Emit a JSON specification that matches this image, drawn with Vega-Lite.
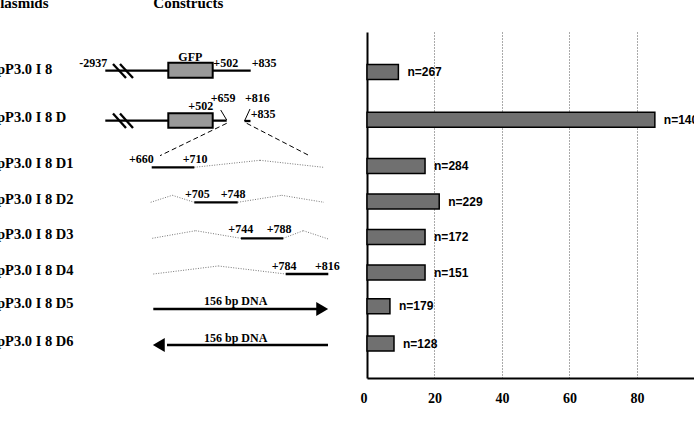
{
  "$schema": "https://vega.github.io/schema/vega-lite/v6.json",
  "background": "white",
  "padding": 0,
  "config": {"view": {"stroke": null}},
  "datasets": {
    "rows": [
      {"y": 1, "pct": 9.3, "n": "n=267"},
      {"y": 2.35, "pct": 85.3, "n": "n=140"},
      {"y": 3.65, "pct": 17.2, "n": "n=284"},
      {"y": 4.65, "pct": 21.4, "n": "n=229"},
      {"y": 5.65, "pct": 17.2, "n": "n=172"},
      {"y": 6.65, "pct": 17.2, "n": "n=151"},
      {"y": 7.6, "pct": 6.8, "n": "n=179"},
      {"y": 8.65, "pct": 8.0, "n": "n=128"}
    ],
    "plasmids": [
      {"x": -0.6, "y": 1, "text": "pP3.0 I 8"},
      {"x": -0.6, "y": 2.35, "text": "pP3.0 I 8 D"},
      {"x": -0.6, "y": 3.65, "text": "pP3.0 I 8 D1"},
      {"x": -0.6, "y": 4.65, "text": "pP3.0 I 8 D2"},
      {"x": -0.6, "y": 5.65, "text": "pP3.0 I 8 D3"},
      {"x": -0.6, "y": 6.65, "text": "pP3.0 I 8 D4"},
      {"x": -0.6, "y": 7.6, "text": "pP3.0 I 8 D5"},
      {"x": -0.6, "y": 8.65, "text": "pP3.0 I 8 D6"}
    ],
    "segs": [
      {"x": 21.06, "y": 0.937, "x2": 50.14, "y2": 0.937, "kind": "thick"},
      {"x": 22.6, "y": 0.748, "x2": 25.2, "y2": 1.143, "kind": "thick"},
      {"x": 24.0, "y": 0.748, "x2": 26.6, "y2": 1.143, "kind": "thick"},
      {"x": 21.06, "y": 2.345, "x2": 45.34, "y2": 2.345, "kind": "thick"},
      {"x": 22.6, "y": 2.143, "x2": 25.2, "y2": 2.551, "kind": "thick"},
      {"x": 24.0, "y": 2.143, "x2": 26.6, "y2": 2.551, "kind": "thick"},
      {"x": 44.14, "y": 2.044, "x2": 45.34, "y2": 2.326, "kind": "thin"},
      {"x": 50.0, "y": 2.016, "x2": 48.9, "y2": 2.354, "kind": "thin"},
      {"x": 48.9, "y": 2.354, "x2": 50.1, "y2": 2.354, "kind": "thick"},
      {"x": 45.34, "y": 2.419, "x2": 32.0, "y2": 3.331, "kind": "dashed"},
      {"x": 49.34, "y": 2.419, "x2": 62.0, "y2": 3.34, "kind": "dashed"},
      {"x": 30.34, "y": 3.658, "x2": 38.86, "y2": 3.658, "kind": "thick"},
      {"x": 38.86, "y": 3.658, "x2": 52.0, "y2": 3.461, "kind": "dotted"},
      {"x": 52.0, "y": 3.461, "x2": 64.66, "y2": 3.658, "kind": "dotted"},
      {"x": 30.14, "y": 4.644, "x2": 34.46, "y2": 4.447, "kind": "dotted"},
      {"x": 34.46, "y": 4.447, "x2": 38.86, "y2": 4.644, "kind": "dotted"},
      {"x": 38.86, "y": 4.644, "x2": 47.54, "y2": 4.644, "kind": "thick"},
      {"x": 47.54, "y": 4.644, "x2": 56.34, "y2": 4.447, "kind": "dotted"},
      {"x": 56.34, "y": 4.447, "x2": 64.8, "y2": 4.644, "kind": "dotted"},
      {"x": 30.46, "y": 5.658, "x2": 39.14, "y2": 5.444, "kind": "dotted"},
      {"x": 39.14, "y": 5.444, "x2": 48.2, "y2": 5.658, "kind": "dotted"},
      {"x": 48.2, "y": 5.658, "x2": 56.66, "y2": 5.658, "kind": "thick"},
      {"x": 56.66, "y": 5.658, "x2": 60.66, "y2": 5.444, "kind": "dotted"},
      {"x": 60.66, "y": 5.444, "x2": 65.66, "y2": 5.678, "kind": "dotted"},
      {"x": 30.66, "y": 6.664, "x2": 43.66, "y2": 6.438, "kind": "dotted"},
      {"x": 43.66, "y": 6.438, "x2": 57.14, "y2": 6.664, "kind": "dotted"},
      {"x": 57.14, "y": 6.664, "x2": 65.66, "y2": 6.664, "kind": "thick"},
      {"x": 30.66, "y": 7.65, "x2": 63.6, "y2": 7.65, "kind": "thick"},
      {"x": 33.4, "y": 8.664, "x2": 65.6, "y2": 8.664, "kind": "thick"}
    ],
    "boxes": [
      {"x": 33.66, "x2": 42.54, "y": 0.712, "y2": 1.134},
      {"x": 33.66, "x2": 42.54, "y": 2.137, "y2": 2.543}
    ],
    "heads": [
      {"x": 64.44, "y": 7.65, "dir": "right"},
      {"x": 31.76, "y": 8.664, "dir": "left"}
    ],
    "notes": [
      {"x": 15.86, "y": 0.841, "text": "-2937"},
      {"x": 35.66, "y": 0.664, "text": "GFP"},
      {"x": 42.66, "y": 0.841, "text": "+502"},
      {"x": 50.34, "y": 0.841, "text": "+835"},
      {"x": 37.66, "y": 2.044, "text": "+502"},
      {"x": 42.14, "y": 1.81, "text": "+659"},
      {"x": 49.0, "y": 1.81, "text": "+816"},
      {"x": 50.14, "y": 2.278, "text": "+835"},
      {"x": 25.8, "y": 3.545, "text": "+660"},
      {"x": 36.54, "y": 3.545, "text": "+710"},
      {"x": 37.0, "y": 4.531, "text": "+705"},
      {"x": 44.14, "y": 4.531, "text": "+748"},
      {"x": 45.66, "y": 5.517, "text": "+744"},
      {"x": 53.34, "y": 5.517, "text": "+788"},
      {"x": 54.34, "y": 6.551, "text": "+784"},
      {"x": 63.0, "y": 6.551, "text": "+816"},
      {"x": 40.8, "y": 7.537, "text": "156 bp DNA"},
      {"x": 40.8, "y": 8.571, "text": "156 bp DNA"}
    ],
    "headers": [
      {"x": -1.8, "y": -0.84, "text": "Plasmids"},
      {"x": 30.66, "y": -0.84, "text": "Constructs"}
    ]
  },
  "hconcat": [
    {
      "width": 360,
      "height": 423,
      "encoding": {
        "x": {"field": "x", "type": "quantitative", "scale": {"domain": [0, 72], "nice": false, "zero": false}, "axis": null},
        "y": {"field": "y", "type": "quantitative", "scale": {"domain": [-1.0546, 10.8612], "reverse": true, "nice": false, "zero": false}, "axis": null}
      },
      "layer": [
        {
          "data": {"name": "segs"},
          "transform": [{"filter": "datum.kind === 'dotted'"}],
          "mark": {"type": "rule", "color": "#777777", "strokeWidth": 1, "strokeDash": [1, 1.5]},
          "encoding": {"x2": {"field": "x2"}, "y2": {"field": "y2"}}
        },
        {
          "data": {"name": "segs"},
          "transform": [{"filter": "datum.kind === 'dashed'"}],
          "mark": {"type": "rule", "color": "black", "strokeWidth": 1, "strokeDash": [5, 3]},
          "encoding": {"x2": {"field": "x2"}, "y2": {"field": "y2"}}
        },
        {
          "data": {"name": "segs"},
          "transform": [{"filter": "datum.kind === 'thin'"}],
          "mark": {"type": "rule", "color": "black", "strokeWidth": 1},
          "encoding": {"x2": {"field": "x2"}, "y2": {"field": "y2"}}
        },
        {
          "data": {"name": "segs"},
          "transform": [{"filter": "datum.kind === 'thick'"}],
          "mark": {"type": "rule", "color": "black", "strokeWidth": 2.3},
          "encoding": {"x2": {"field": "x2"}, "y2": {"field": "y2"}}
        },
        {
          "data": {"name": "boxes"},
          "mark": {"type": "rect", "fill": "#999999", "stroke": "black", "strokeWidth": 2},
          "encoding": {"x2": {"field": "x2"}, "y2": {"field": "y2"}}
        },
        {
          "data": {"name": "heads"},
          "mark": {"type": "point", "filled": true, "color": "black", "size": 190, "opacity": 1},
          "encoding": {
            "shape": {"field": "dir", "type": "nominal", "scale": {"domain": ["right", "left"], "range": ["triangle-right", "triangle-left"]}, "legend": null}
          }
        },
        {
          "data": {"name": "notes"},
          "mark": {"type": "text", "align": "left", "baseline": "alphabetic", "font": "Liberation Serif", "fontWeight": "bold", "fontSize": 12, "color": "black"},
          "encoding": {"text": {"field": "text"}}
        },
        {
          "data": {"name": "plasmids"},
          "mark": {"type": "text", "align": "left", "baseline": "alphabetic", "dy": 1, "font": "Liberation Serif", "fontWeight": "bold", "fontSize": 14.5, "color": "black", "clip": true},
          "encoding": {"text": {"field": "text"}}
        },
        {
          "data": {"name": "headers"},
          "mark": {"type": "text", "align": "left", "baseline": "alphabetic", "font": "Liberation Serif", "fontWeight": "bold", "fontSize": 15, "color": "black", "clip": true},
          "encoding": {"text": {"field": "text"}}
        }
      ]
    },
    {
      "spacing": 0,
      "vconcat": [
        {
          "width": 327,
          "height": 32,
          "data": {"values": []},
          "mark": "point"
        },
        {
          "width": 327,
          "height": 346,
          "data": {"name": "rows"},
          "encoding": {
            "y": {"field": "y", "type": "quantitative", "scale": {"domain": [-0.125, 9.6215], "reverse": true, "nice": false, "zero": false, "padding": 0},
              "axis": {"domain": true, "domainColor": "black", "domainWidth": 2, "ticks": false, "labels": false, "grid": false, "title": null}},
            "x": {"field": "pct", "type": "quantitative", "scale": {"domain": [0, 96.9], "nice": false, "padding": 0},
              "axis": {
                "values": [0, 20, 40, 60, 80], "title": null,
                "domainColor": "black", "domainWidth": 2,
                "ticks": false, "tickSize": 0,
                "labelFont": "Liberation Serif", "labelFontWeight": "bold", "labelFontSize": 14, "labelColor": "black",
                "labelPadding": 13, "labelFlush": false, "labelOverlap": false,
                "labelAlign": {"condition": {"test": "datum.value === 0", "value": "right"}, "value": "center"},
                "grid": true, "gridColor": "#555555", "gridWidth": 1, "gridDash": [1, 2],
                "gridOpacity": {"condition": {"test": "datum.value === 0", "value": 0}, "value": 1}
              }}
          },
          "layer": [
            {"mark": {"type": "bar", "orient": "horizontal", "size": 15, "fill": "#707070", "stroke": "black", "strokeWidth": 1.5}},
            {
              "mark": {"type": "text", "align": "left", "baseline": "middle", "dx": 9, "font": "Liberation Sans", "fontWeight": "bold", "fontSize": 12, "color": "black", "clip": true},
              "encoding": {"text": {"field": "n"}}
            }
          ]
        }
      ]
    }
  ],
  "spacing": 0
}
